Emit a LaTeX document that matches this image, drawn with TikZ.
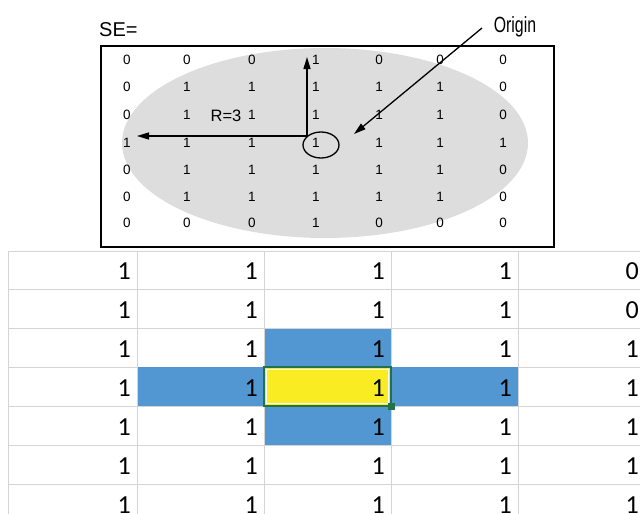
\documentclass[tikz,border=0pt]{standalone}
\usepackage{fontspec}
\setmainfont{Liberation Sans}
\newfontfamily\calib{Carlito}
\usetikzlibrary{arrows.meta}
\definecolor{ellgray}{RGB}{221,221,221}
\definecolor{gridgray}{RGB}{212,212,212}
\definecolor{xlblue}{RGB}{82,150,210}
\definecolor{xlyellow}{RGB}{250,236,35}
\definecolor{xlgreen}{RGB}{33,115,70}
\tikzset{
  sedigit/.style={font=\fontsize{13.5}{13.5}\selectfont, inner sep=0pt},
  celltext/.style={font=\calib\fontsize{26}{26}\selectfont, anchor=east, inner sep=0pt},
  arr/.style={line width=1.3pt, -{Triangle[length=12pt,width=7pt]}},
  gridline/.style={draw=gridgray, line width=1pt},
}
\begin{document}
\begin{tikzpicture}[x=1pt,y=-1pt]
\useasboundingbox (0,0) rectangle (640,514);
% ---- top structuring element ----
\begin{scope}
\clip (101,46) rectangle (554,247);
\fill[ellgray] (325,143) ellipse [x radius=203, y radius=95];
\end{scope}
\draw[line width=1.3pt] (101,46) rectangle (554,247);
\node[anchor=base west, inner sep=0pt, font=\fontsize{20}{20}\selectfont] (se) at (99,36) {SE=};
% matrix values
\def\colxs{{127,187,252,316,379,440,503}}
\def\rowys{{60,87,115,143,170,197,223}}
\foreach \r/\vals in {0/{0,0,0,1,0,0,0},1/{0,1,1,1,1,1,0},2/{0,1,1,1,1,1,0},3/{1,1,1,1,1,1,1},4/{0,1,1,1,1,1,0},5/{0,1,1,1,1,1,0},6/{0,0,0,1,0,0,0}}{
  \foreach \v [count=\c from 0] in \vals {
    \pgfmathsetmacro{\xx}{\colxs[\c]}
    \pgfmathsetmacro{\yy}{\rowys[\r]}
    \node[sedigit] (m-\r-\c) at (\xx,\yy) {\v};
  }
}
\node[inner sep=0pt, font=\fontsize{16.5}{16.5}\selectfont] (rlabel) at (226,116) {R=3};
% arrows
\coordinate (junc) at (307,136);
\coordinate (uptip) at (307,57);
\coordinate (lefttip) at (137,136);
\draw[arr] (junc) -- (uptip);
\draw[arr] (junc) -- (lefttip);
\draw[line width=1.3pt] (321,145) ellipse [x radius=18, y radius=13] node (orig) {};
\node[anchor=base, inner sep=0pt, font=\fontsize{22}{22}\selectfont] (originlbl) at (515,32) {\scalebox{0.72}[1]{Origin}};
\coordinate (ostart) at (482,28);
\coordinate (otip) at (354,134);
\draw[arr] (ostart) -- (otip);
% ---- bottom spreadsheet ----
\foreach \y in {251,289,328,367,406,445,484} {
  \draw[gridline] (8,\y) -- (640,\y);
}
\foreach \x in {8,137,264,391,518} {
  \draw[gridline] (\x,251) -- (\x,514);
}
\fill[xlblue] (264.5,329) rectangle (390.5,366.5);
\fill[xlblue] (264.5,406.5) rectangle (390.5,445);
\fill[xlblue] (138,367) rectangle (263.5,406);
\fill[xlblue] (391.5,367) rectangle (517.5,406);
\fill[xlyellow] (264,367) rectangle (391,406);
\draw[xlgreen, line width=2.6pt] (264,367) rectangle (391,406);
\draw[white, line width=0.8pt] (266.2,369.2) rectangle (388.8,403.8);
\fill[xlgreen] (388,403) rectangle (394.5,409.5);
\foreach \r/\vals in {0/{1,1,1,1,0},1/{1,1,1,1,0},2/{1,1,1,1,1},3/{1,1,1,1,1},4/{1,1,1,1,1},5/{1,1,1,1,1},6/{1,1,1,1,1}}{
  \foreach \v [count=\c from 0] in \vals {
    \pgfmathsetmacro{\xx}{131+127*\c}
    \pgfmathsetmacro{\yy}{271+39*\r}
    \node[celltext] (c-\r-\c) at (\xx,\yy) {\v};
  }
}
\end{tikzpicture}
\end{document}
